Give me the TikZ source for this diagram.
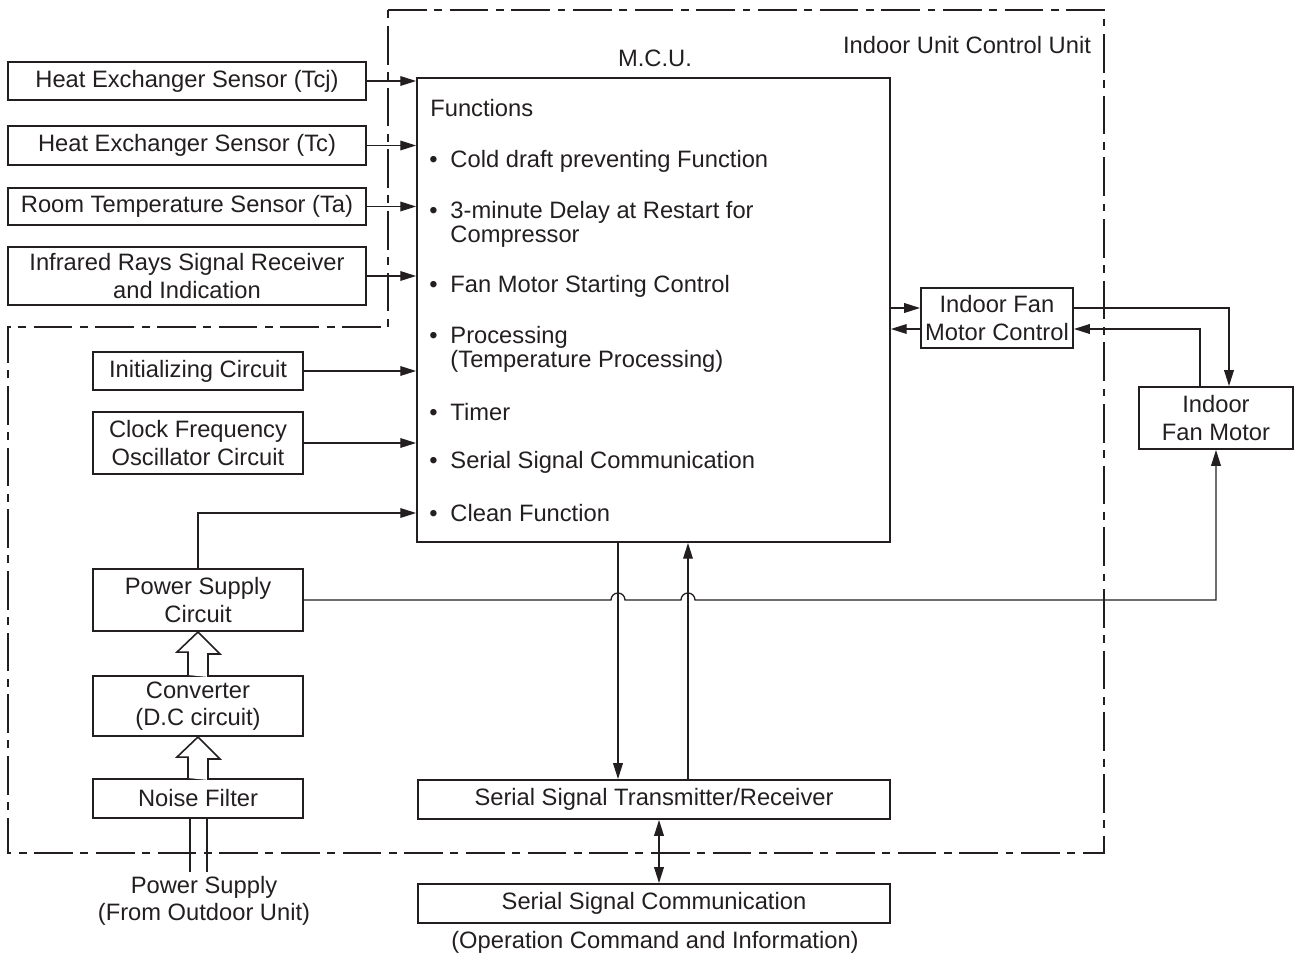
\documentclass[tikz,border=0pt]{standalone}
\usepackage{fontspec}
\setmainfont{Liberation Sans}
\usetikzlibrary{arrows.meta,calc}
\definecolor{ink}{HTML}{231F20}

\begin{document}
\begin{tikzpicture}[
    x=0.02cm,y=-0.02cm,
    font=\fontsize{13.5}{15.5}\selectfont,
    blk/.style={draw=ink,line width=1.1pt,inner sep=0pt,align=center,
        text=ink},
    wire/.style={draw=ink,line width=0.75pt},
    arr/.style={wire,-{Triangle[length=9pt,width=5.5pt]}},
    darr/.style={wire,{Triangle[length=9pt,width=5.5pt]}-{Triangle[length=9pt,width=5.5pt]}},
    hollow/.style={draw=ink,line width=0.9pt,fill=white,line join=miter},
    border/.style={draw=ink,line width=1.2pt,
        dash pattern=on 22pt off 4.3pt on 4.5pt off 4.3pt},
    item/.style={anchor=west,inner sep=0pt,align=left,text=ink,
        font=\fontsize{13.5}{13.6}\selectfont},
    lbl/.style={inner sep=1pt,align=center,text=ink},
  ]
  \useasboundingbox (0,0) rectangle (1298,959);

  % ============================================================= CONTROL UNIT
  \draw[border] (388,10) -- (1104,10) -- (1104,853) -- (8,853)
    -- (8,327) -- (388,327) -- cycle;
  \node[lbl] (cu) at (967,45) {Indoor Unit Control Unit};

  % ============================================================= M.C.U.
  \node[blk,minimum width=9.46cm,minimum height=9.28cm] (mcu) at (653.5,310) {};
  \node[lbl] (mculbl) at (655,58) {M.C.U.};
  \node[item] (func) at (430,108) {Functions};
  \def\hang{\phantom{\textbullet}\hspace*{7.3pt}}   % second-line indent
  % name / y-centre / text
  \foreach \nm/\yc/\txt in {
      cold/161/{Cold draft preventing Function},
      delay/224/{3-minute Delay at Restart for\\\hang Compressor},
      fan/286/{Fan Motor Starting Control},
      proc/349/{Processing\\\hang (Temperature Processing)},
      timer/412/{Timer},
      serial/462/{Serial Signal Communication},
      clean/513/{Clean Function}}{
    \node[item] (\nm) at (429,\yc) {\textbullet\hspace{7.3pt}\txt};
  }

  % ============================================================= SENSORS
  \foreach \nm/\yc/\hh/\txt in {
      tcj/81/0.76/{Heat Exchanger Sensor (Tcj)},
      tc/145.5/0.78/{Heat Exchanger Sensor (Tc)},
      ta/206.5/0.74/{Room Temperature Sensor (Ta)},
      ir/276/1.16/{Infrared Rays Signal Receiver\\and Indication}}{
    \node[blk,minimum width=7.16cm,minimum height=\hh cm] (\nm) at (187,\yc) {\txt};
    \draw[arr] (\nm.east) -- (\nm.east -| mcu.west);
  }

  % ============================================================= LEFT COLUMN
  \foreach \nm/\yc/\hh/\txt in {
      init/371/0.76/{Initializing Circuit},
      clock/443/1.24/{Clock Frequency\\Oscillator Circuit},
      power/600/1.24/{Power Supply\\Circuit},
      conv/706/1.2/{Converter\\(D.C circuit)},
      noise/798.5/0.78/{Noise Filter}}{
    \node[blk,minimum width=4.2cm,minimum height=\hh cm] (\nm) at (198,\yc) {\txt};
  }
  \draw[arr] (init.east) -- (init.east -| mcu.west);
  \draw[arr] (clock.east) -- (clock.east -| mcu.west);
  \draw[arr] (power.north) |- (mcu.west |- clean);

  % hollow power arrows
  \draw[hollow] ($(conv.north)+(-10,0)$) -- ++(0,-23) -- ++(-11,0)
    -- (power.south) -- ++(22,22) -- ++(-12,0) -- ++(0,23);
  \draw[hollow] ($(noise.north)+(-10,0)$) -- ++(0,-21) -- ++(-11,0)
    -- (conv.south) -- ++(22,22) -- ++(-12,0) -- ++(0,21);

  % supply input
  \node[lbl] (psin) at (204,901) {Power Supply\\(From Outdoor Unit)};
  \draw[wire] (noise.south) ++(-8,0) -- ++(0,53);
  \draw[wire] (noise.south) ++(9,0) -- ++(0,53);

  % ============================================================= SERIAL
  \node[blk,minimum width=9.44cm,minimum height=0.78cm] (sstr) at (654,799.5)
    {Serial Signal Transmitter/Receiver};
  \node[blk,minimum width=9.44cm,minimum height=0.78cm] (scomm) at (654,903.5)
    {Serial Signal Communication};
  \node[lbl] (opinfo) at (655,942) {(Operation Command and Information)};

  \coordinate (dn) at ([xshift=-0.71cm]mcu.south);
  \coordinate (up) at ([xshift=0.69cm]mcu.south);
  \draw[arr] (dn) -- (dn |- sstr.north);
  \draw[arr] (up |- sstr.north) -- (up);
  \draw[darr] ([xshift=0.1cm]sstr.south) -- ([xshift=0.1cm]scomm.north);

  % ============================================================= FAN MOTOR
  \node[blk,minimum width=3.04cm,minimum height=1.2cm] (fmc) at (997,318)
    {Indoor Fan\\Motor Control};
  \node[blk,minimum width=3.08cm,minimum height=1.24cm] (fm) at (1216,418)
    {Indoor\\Fan Motor};
  \coordinate (fo) at ([yshift=0.2cm]fmc.west);
  \coordinate (fi) at ([yshift=-0.22cm]fmc.west);
  \draw[arr] (fo -| mcu.east) -- (fo);
  \draw[arr] (fi) -- (fi -| mcu.east);
  \draw[arr] ([yshift=0.2cm]fmc.east) -| ([xshift=0.26cm]fm.north);
  \draw[arr] ([xshift=-0.32cm]fm.north) |- ([yshift=-0.22cm]fmc.east);

  % power line to fan motor, hopping over the serial wires
  \draw[arr] (power.east) -- ([xshift=-0.14cm]dn |- power.east)
    arc[start angle=180,end angle=0,radius=0.14cm]
    -- ([xshift=-0.14cm]up |- power.east)
    arc[start angle=180,end angle=0,radius=0.14cm]
    -| (fm.south);

\end{tikzpicture}
\end{document}
